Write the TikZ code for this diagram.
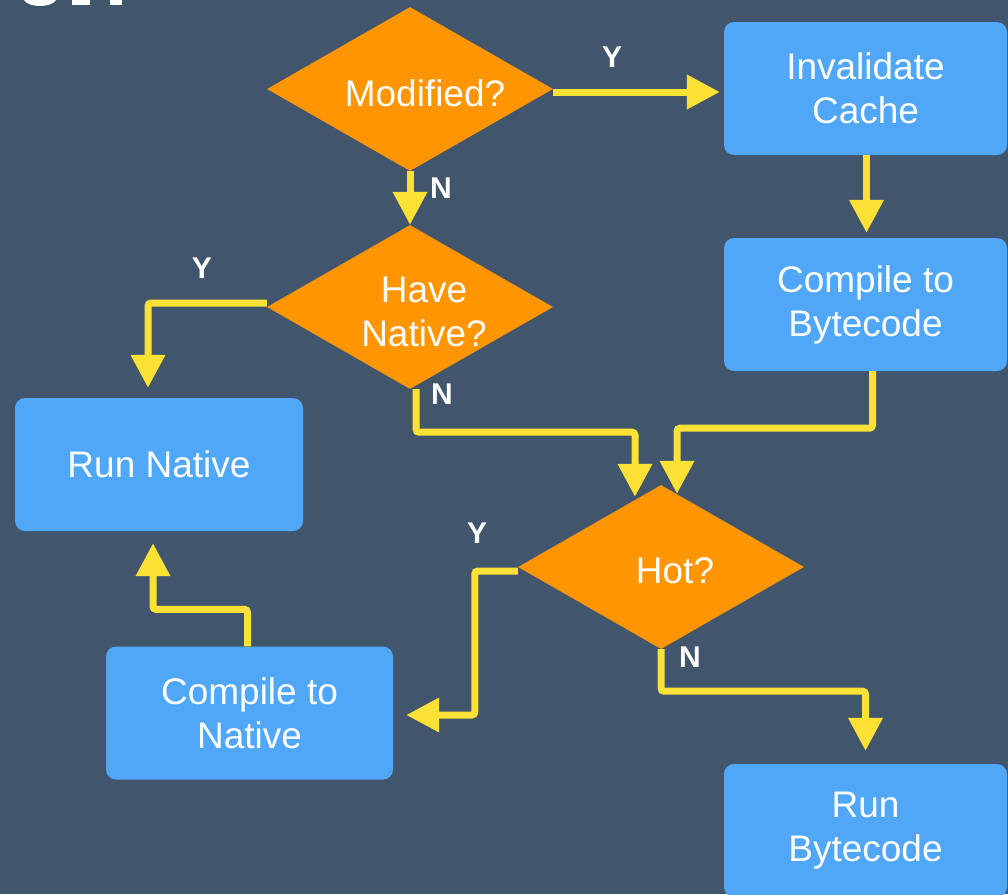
\documentclass[tikz,border=0pt]{standalone}
\usepackage{fontspec}
\setmainfont{Liberation Sans}
\usetikzlibrary{shapes.geometric,arrows.meta,calc}
\definecolor{slate}{RGB}{65,85,108}
\definecolor{dorange}{RGB}{255,149,0}
\definecolor{sky}{RGB}{81,167,247}
\definecolor{sunny}{RGB}{254,225,53}
\begin{document}
\begin{tikzpicture}[x=1pt,y=-1pt,
  decision/.style={diamond, fill=dorange, minimum width=286pt, minimum height=164pt, inner sep=0pt},
  dtext/.style={text=white, inner sep=0pt, align=center, font=\fontsize{37}{44}\selectfont},
  stepbox/.style={rectangle, rounded corners=10pt, fill=sky, minimum width=283pt, minimum height=133pt,
    inner sep=0pt, text=white, align=center, font=\fontsize{37}{44}\selectfont},
  tag/.style={text=white, inner sep=0pt, font=\bfseries\fontsize{30}{30}\selectfont},
  flow/.style={draw=sunny, line width=7pt, rounded corners=3pt, -{Triangle[length=33pt,width=33pt]}}]

% backdrop
\fill[slate] (0,0) rectangle (1008,894);
\useasboundingbox (0,0) rectangle (1008,894);

% slivers of the heading above the chart
\fill[white] (24,0) .. controls (29,8) and (51,8) .. (56,0) -- cycle;
\fill[white] (72,0) rectangle (90,5);
\fill[white] (110,0) rectangle (122,5);

% decisions
\node[decision] (mod) at (410,89) {};
\node[dtext] (modt) at (425,93) {Modified?};
\node[decision] (hn) at (410,307) {};
\node[dtext] (hnt) at (424,312) {Have\\Native?};
\node[decision] (hot) at (661,567) {};
\node[dtext] (hott) at (675,571) {Hot?};

% actions
\node[stepbox] (ic) at (865.5,88.5) {Invalidate\\Cache};
\node[stepbox] (cb) at (865.5,304.5) {Compile to\\Bytecode};
\node[stepbox, minimum width=288pt] (rnat) at (159,464.5) {Run Native};
\node[stepbox, minimum width=287pt] (cnat) at (249.5,713) {Compile to\\Native};
\node[stepbox] (rb) at (865.5,830.5) {Run\\Bytecode};

% connectors
\draw[flow, shorten >=4pt] ([yshift=-3pt]mod.east) -- ([yshift=-3pt]mod.east -| ic.west);
\draw[flow] (mod.south) -- (hn.north);
\draw[flow, shorten >=5pt] ([xshift=1pt]ic.south) -- ([xshift=1pt]cb.north);
\draw[flow, shorten >=10pt] ([yshift=4pt]hn.west) -| ([xshift=-11pt]rnat.north);
\draw[flow, shorten >=-12pt] ([xshift=6pt]hn.south) -- ++(0,43) -| ([xshift=-26pt]hot.north);
\draw[flow, shorten >=-9pt] ([xshift=7pt]cb.south) -- ++(0,57) -| ([xshift=16pt]hot.north);
\draw[flow, shorten >=13pt] ([yshift=-4pt]hot.west) -- ++(-43,0) |- ([yshift=-2pt]cnat.east);
\draw[flow, shorten >=13pt] (hot.south) -- ++(0,42) -| (rb.north);
\draw[flow, shorten >=12pt] ([xshift=-2pt]cnat.north) -- ++(0,-37) -| ([xshift=-6pt]rnat.south);

% branch labels
\node[tag] (y1) at (612,57) {Y};
\node[tag] (n1) at (441,188) {N};
\node[tag] (y2) at (202,268) {Y};
\node[tag] (n2) at (442,394) {N};
\node[tag] (y3) at (477,533) {Y};
\node[tag] (n3) at (690,657) {N};
\end{tikzpicture}
\end{document}
